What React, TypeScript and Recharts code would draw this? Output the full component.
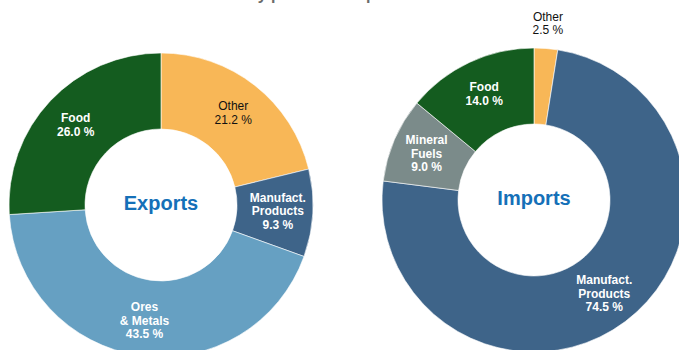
import { Pie, PieChart, Cell } from "recharts";

// shares in per cent, clockwise from 12 o'clock
const exportCategories = ["Other", "Manufact.\nProducts", "Ores\n& Metals", "Food"];
const exportShares = [21.2, 9.3, 43.5, 26.0];

const importCategories = ["Other", "Manufact.\nProducts", "Mineral\nFuels", "Food"];
const importShares = [2.5, 74.5, 9.0, 14.0];

const COLORS: Record<string, string> = {
  Other: "#F8B757",
  "Manufact.\nProducts": "#3E6489",
  "Ores\n& Metals": "#66A0C2",
  "Mineral\nFuels": "#7B8B8A",
  Food: "#145C1F",
};

const FONT = "'Liberation Sans', Arial, sans-serif";
const RADIAN = Math.PI / 180;

const W = 679;
const H = 350;
const INNER = 76;
const OUTER = 152;
const EXPORT_CENTER = { x: 161, y: 205 };
const IMPORT_CENTER = { x: 534, y: 200 };

const exportData = exportCategories.map((name, i) => ({ name, value: exportShares[i] }));
const importData = importCategories.map((name, i) => ({ name, value: importShares[i] }));

const SliceLabel = (props: any) => {
  const { cx, cy, midAngle, innerRadius, outerRadius, value, name } = props;
  // thin slices get their label outside the ring
  const small = value < 5;
  const r = small ? outerRadius + 25 : (innerRadius + outerRadius) / 2 + 3;
  const x = cx + r * Math.cos(-midAngle * RADIAN);
  const y = cy + r * Math.sin(-midAngle * RADIAN);
  const isOther = name === "Other";
  const lines = [...String(name).split("\n"), `${value.toFixed(1)} %`];
  const lh = 13.5;
  const top = y - ((lines.length - 1) * lh) / 2;
  return (
    <text
      x={x}
      y={top}
      textAnchor="middle"
      dominantBaseline="central"
      fill={isOther ? "#111" : "#fff"}
      fontFamily={FONT}
      fontSize={12}
      fontWeight={isOther ? "normal" : "bold"}
    >
      {lines.map((line, i) => (
        <tspan key={i} x={x} dy={i === 0 ? 0 : lh}>
          {line}
        </tspan>
      ))}
    </text>
  );
};

const centerTextStyle = {
  fontFamily: FONT,
  fontSize: 20,
  fontWeight: "bold" as const,
  fill: "#1570B8",
};

export default function App() {
  return (
    <div style={{ position: "absolute", left: 0, top: 0, width: W, height: H, background: "#fff", overflow: "hidden" }}>
      <PieChart width={W} height={H} margin={{ top: 0, right: 0, bottom: 0, left: 0 }} style={{ position: "absolute", left: 0, top: 0 }}>
        <Pie
          data={exportData}
          dataKey="value"
          nameKey="name"
          cx={EXPORT_CENTER.x}
          cy={EXPORT_CENTER.y}
          innerRadius={INNER}
          outerRadius={OUTER}
          startAngle={90}
          endAngle={-270}
          stroke="#ffffff"
          strokeWidth={0.6}
          label={SliceLabel}
          labelLine={false}
          isAnimationActive={false}
        >
          {exportData.map((d, i) => (
            <Cell key={`e-${i}`} fill={COLORS[d.name]} />
          ))}
        </Pie>
        <Pie
          data={importData}
          dataKey="value"
          nameKey="name"
          cx={IMPORT_CENTER.x}
          cy={IMPORT_CENTER.y}
          innerRadius={INNER}
          outerRadius={OUTER}
          startAngle={90}
          endAngle={-270}
          stroke="#ffffff"
          strokeWidth={0.6}
          label={SliceLabel}
          labelLine={false}
          isAnimationActive={false}
        >
          {importData.map((d, i) => (
            <Cell key={`i-${i}`} fill={COLORS[d.name]} />
          ))}
        </Pie>
      </PieChart>
      <svg width={W} height={H} style={{ position: "absolute", left: 0, top: 0, pointerEvents: "none" }}>
        {/* heading runs above the top edge */}
        <text x={367} y={0} textAnchor="middle" fill="#6B6B6B" fontFamily={FONT} fontSize={16} fontWeight="bold">
          by products as per cent of total
        </text>
        <text x={EXPORT_CENTER.x} y={EXPORT_CENTER.y - 2} textAnchor="middle" dominantBaseline="central" {...centerTextStyle}>
          Exports
        </text>
        <text x={IMPORT_CENTER.x} y={IMPORT_CENTER.y - 2} textAnchor="middle" dominantBaseline="central" {...centerTextStyle}>
          Imports
        </text>
      </svg>
    </div>
  );
}
